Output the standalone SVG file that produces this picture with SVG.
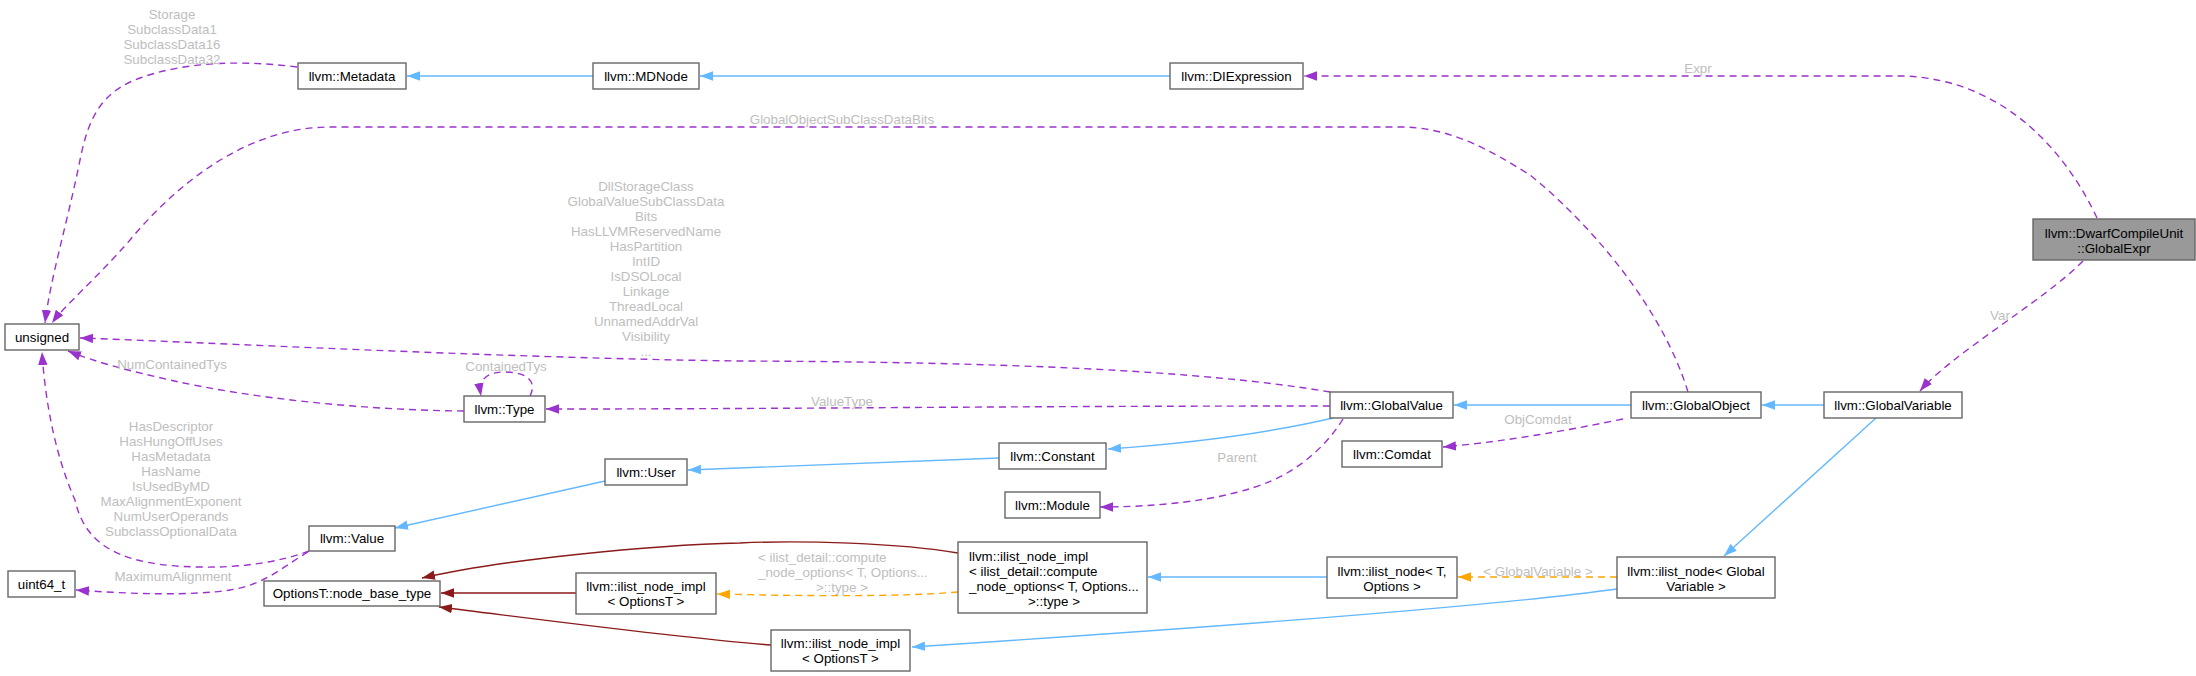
<svg xmlns="http://www.w3.org/2000/svg" width="2196" height="676" viewBox="0 0 2196 676">
<style>
.n rect{fill:#fff;stroke:#666;stroke-width:1.4}
.n text{font-family:"Liberation Sans",Arial,sans-serif;font-size:13.33px;fill:#000;text-anchor:middle}
.n text.l{text-anchor:start}
#gexpr rect{fill:#999}
.e path{fill:none;stroke-width:1.4}
.b{stroke:#63b8ff}
.p{stroke:#9a32cd;stroke-dasharray:7,5}
.r{stroke:#8b1a1a}
.o{stroke:#ffa500;stroke-dasharray:7,5}
.lb text{font-family:"Liberation Sans",Arial,sans-serif;font-size:13.33px;fill:#bebebe;text-anchor:middle}
.lb text.l{text-anchor:start}
</style>
<defs>
<marker id="ab" markerUnits="userSpaceOnUse" markerWidth="14" markerHeight="10" refX="13" refY="4.7" orient="auto"><path d="M0,0 L13,4.7 L0,9.4 z" fill="#63b8ff"/></marker>
<marker id="ap" markerUnits="userSpaceOnUse" markerWidth="14" markerHeight="10" refX="13" refY="4.7" orient="auto"><path d="M0,0 L13,4.7 L0,9.4 z" fill="#9a32cd"/></marker>
<marker id="ar" markerUnits="userSpaceOnUse" markerWidth="14" markerHeight="10" refX="13" refY="4.7" orient="auto"><path d="M0,0 L13,4.7 L0,9.4 z" fill="#8b1a1a"/></marker>
<marker id="ao" markerUnits="userSpaceOnUse" markerWidth="14" markerHeight="10" refX="13" refY="4.7" orient="auto"><path d="M0,0 L13,4.7 L0,9.4 z" fill="#ffa500"/></marker>
</defs>
<rect width="2196" height="676" fill="#fff"/>
<g id="edges" class="e">
<path class="b" marker-end="url(#ab)" d="M593,76 L407,76"/>
<path class="b" marker-end="url(#ab)" d="M1170,76 L700,76"/>
<path class="p" marker-end="url(#ap)" d="M2097,218 C2070,160 2010,80 1904,76 L1304,76"/>
<path class="p" marker-end="url(#ap)" d="M2083,261 C2045,300 1950,355 1920,391"/>
<path class="p" marker-end="url(#ap)" d="M297,67 C250,61 190,60 140,78 C100,92 88,120 80,160 C68,220 50,280 45,323"/>
<path class="p" marker-end="url(#ap)" d="M1688,392 C1660,300 1580,215 1530,175 C1490,150 1450,127 1400,127 L330,127 C250,127 180,180 130,240 C95,280 65,305 52,323"/>
<path class="p" marker-end="url(#ap)" d="M1330,392 C1200,370 1000,362 740,361 C500,358 200,342 80,338"/>
<path class="p" marker-end="url(#ap)" d="M464,411 C360,410 250,398 170,380 C130,371 95,362 68,351"/>
<path class="p" marker-end="url(#ap)" d="M530,396 C538,380 525,372 505,372 C488,372 478,378 481,396"/>
<path class="p" marker-end="url(#ap)" d="M1330,406 C1000,406 800,409 546,409"/>
<path class="b" marker-end="url(#ab)" d="M1333,418 C1260,435 1180,444 1108,449"/>
<path class="b" marker-end="url(#ab)" d="M999,458 L688,470"/>
<path class="b" marker-end="url(#ab)" d="M605,481 L395,528"/>
<path class="p" marker-end="url(#ap)" d="M309,551 C280,562 240,568 200,567 C120,566 85,545 75,500 C55,455 45,400 42,352"/>
<path class="p" marker-end="url(#ap)" d="M308,552 C285,565 265,585 230,590 C190,596 130,594 76,590"/>
<path class="r" marker-end="url(#ar)" d="M958,553 C900,543 800,540 740,543 C650,545 500,560 422,578"/>
<path class="r" marker-end="url(#ar)" d="M576,593 L441,593"/>
<path class="r" marker-end="url(#ar)" d="M771,645 C680,638 560,622 439,607"/>
<path class="o" marker-end="url(#ao)" d="M958,592 C900,597 800,596 717,594"/>
<path class="b" marker-end="url(#ab)" d="M1327,577 L1148,577"/>
<path class="b" marker-end="url(#ab)" d="M1617,589 C1500,605 1250,625 912,647"/>
<path class="o" marker-end="url(#ao)" d="M1617,577 L1458,577"/>
<path class="b" marker-end="url(#ab)" d="M1876,418 L1724,556"/>
<path class="b" marker-end="url(#ab)" d="M1824,405 L1762,405"/>
<path class="b" marker-end="url(#ab)" d="M1631,405 L1454,405"/>
<path class="p" marker-end="url(#ap)" d="M1623,419 C1560,432 1500,442 1443,447"/>
<path class="p" marker-end="url(#ap)" d="M1343,419 C1330,440 1310,460 1287,473 C1250,495 1180,507 1100,507"/>
</g>
<g id="labels" class="lb">
<text x="1698" y="72.5">Expr</text>
<text x="2000" y="319.5">Var</text>
<text x="172" y="18.5">Storage</text>
<text x="172" y="33.5">SubclassData1</text>
<text x="172" y="48.5">SubclassData16</text>
<text x="172" y="63.5">SubclassData32</text>
<text x="842" y="123.5">GlobalObjectSubClassDataBits</text>
<text x="646" y="190.5">DllStorageClass</text>
<text x="646" y="205.5">GlobalValueSubClassData</text>
<text x="646" y="220.5">Bits</text>
<text x="646" y="235.5">HasLLVMReservedName</text>
<text x="646" y="250.5">HasPartition</text>
<text x="646" y="265.5">IntID</text>
<text x="646" y="280.5">IsDSOLocal</text>
<text x="646" y="295.5">Linkage</text>
<text x="646" y="310.5">ThreadLocal</text>
<text x="646" y="325.5">UnnamedAddrVal</text>
<text x="646" y="340.5">Visibility</text>
<text x="646" y="355.5">...</text>
<text x="172" y="368.5">NumContainedTys</text>
<text x="506" y="370.5">ContainedTys</text>
<text x="842" y="405.5">ValueType</text>
<text x="1538" y="423.5">ObjComdat</text>
<text x="1237" y="461.5">Parent</text>
<text x="171" y="430.5">HasDescriptor</text>
<text x="171" y="445.5">HasHungOffUses</text>
<text x="171" y="460.5">HasMetadata</text>
<text x="171" y="475.5">HasName</text>
<text x="171" y="490.5">IsUsedByMD</text>
<text x="171" y="505.5">MaxAlignmentExponent</text>
<text x="171" y="520.5">NumUserOperands</text>
<text x="171" y="535.5">SubclassOptionalData</text>
<text x="173" y="580.5">MaximumAlignment</text>
<text class="l" x="758" y="561.5">&lt; ilist_detail::compute</text>
<text class="l" x="758" y="576.5">_node_options&lt; T, Options...</text>
<text x="842" y="591.5">&gt;::type &gt;</text>
<text x="1538" y="575.5">&lt; GlobalVariable &gt;</text>
</g>
<g id="gexpr" class="n"><rect x="2033" y="219" width="162" height="41"/><text x="2114" y="237.5">llvm::DwarfCompileUnit</text><text x="2114" y="252.5">::GlobalExpr</text></g>
<g id="diexpression" class="n"><rect x="1170" y="63" width="133" height="26"/><text x="1236.5" y="80.5">llvm::DIExpression</text></g>
<g id="mdnode" class="n"><rect x="593" y="63" width="106" height="26"/><text x="646" y="80.5">llvm::MDNode</text></g>
<g id="metadata" class="n"><rect x="298" y="63" width="108" height="26"/><text x="352" y="80.5">llvm::Metadata</text></g>
<g id="unsigned" class="n"><rect x="5" y="324" width="74" height="26"/><text x="42" y="341.5">unsigned</text></g>
<g id="globalvariable" class="n"><rect x="1824" y="392" width="138" height="26"/><text x="1893" y="409.5">llvm::GlobalVariable</text></g>
<g id="globalobject" class="n"><rect x="1631" y="392" width="130" height="26"/><text x="1696" y="409.5">llvm::GlobalObject</text></g>
<g id="globalvalue" class="n"><rect x="1330" y="392" width="123" height="26"/><text x="1391.5" y="409.5">llvm::GlobalValue</text></g>
<g id="type" class="n"><rect x="464" y="396" width="81" height="26"/><text x="504.5" y="413.5">llvm::Type</text></g>
<g id="constant" class="n"><rect x="999" y="443" width="107" height="26"/><text x="1052.5" y="460.5">llvm::Constant</text></g>
<g id="comdat" class="n"><rect x="1342" y="441" width="100" height="26"/><text x="1392" y="458.5">llvm::Comdat</text></g>
<g id="module" class="n"><rect x="1005" y="492" width="95" height="26"/><text x="1052.5" y="509.5">llvm::Module</text></g>
<g id="user" class="n"><rect x="605" y="459" width="82" height="26"/><text x="646" y="476.5">llvm::User</text></g>
<g id="value" class="n"><rect x="309" y="526" width="86" height="25"/><text x="352" y="543">llvm::Value</text></g>
<g id="uint64" class="n"><rect x="8" y="571" width="67" height="26"/><text x="41.5" y="588.5">uint64_t</text></g>
<g id="nodebase" class="n"><rect x="264" y="581" width="176" height="25"/><text x="352" y="598">OptionsT::node_base_type</text></g>
<g id="implopts1" class="n"><rect x="576" y="573" width="140" height="41"/><text x="646" y="591">llvm::ilist_node_impl</text><text x="646" y="606">&lt; OptionsT &gt;</text></g>
<g id="impldetail" class="n"><rect x="958" y="542" width="189" height="71"/><text class="l" x="969" y="560.5">llvm::ilist_node_impl</text><text class="l" x="969" y="575.5">&lt; ilist_detail::compute</text><text class="l" x="969" y="590.5">_node_options&lt; T, Options...</text><text x="1054" y="605.5">&gt;::type &gt;</text></g>
<g id="ilistnodeT" class="n"><rect x="1327" y="557" width="130" height="41"/><text x="1392" y="575.5">llvm::ilist_node&lt; T,</text><text x="1392" y="590.5">Options &gt;</text></g>
<g id="implopts2" class="n"><rect x="771" y="630" width="139" height="41"/><text x="840.5" y="648">llvm::ilist_node_impl</text><text x="840.5" y="663">&lt; OptionsT &gt;</text></g>
<g id="ilistnodeGV" class="n"><rect x="1617" y="557" width="158" height="41"/><text x="1696" y="575.5">llvm::ilist_node&lt; Global</text><text x="1696" y="590.5">Variable &gt;</text></g>
</svg>
